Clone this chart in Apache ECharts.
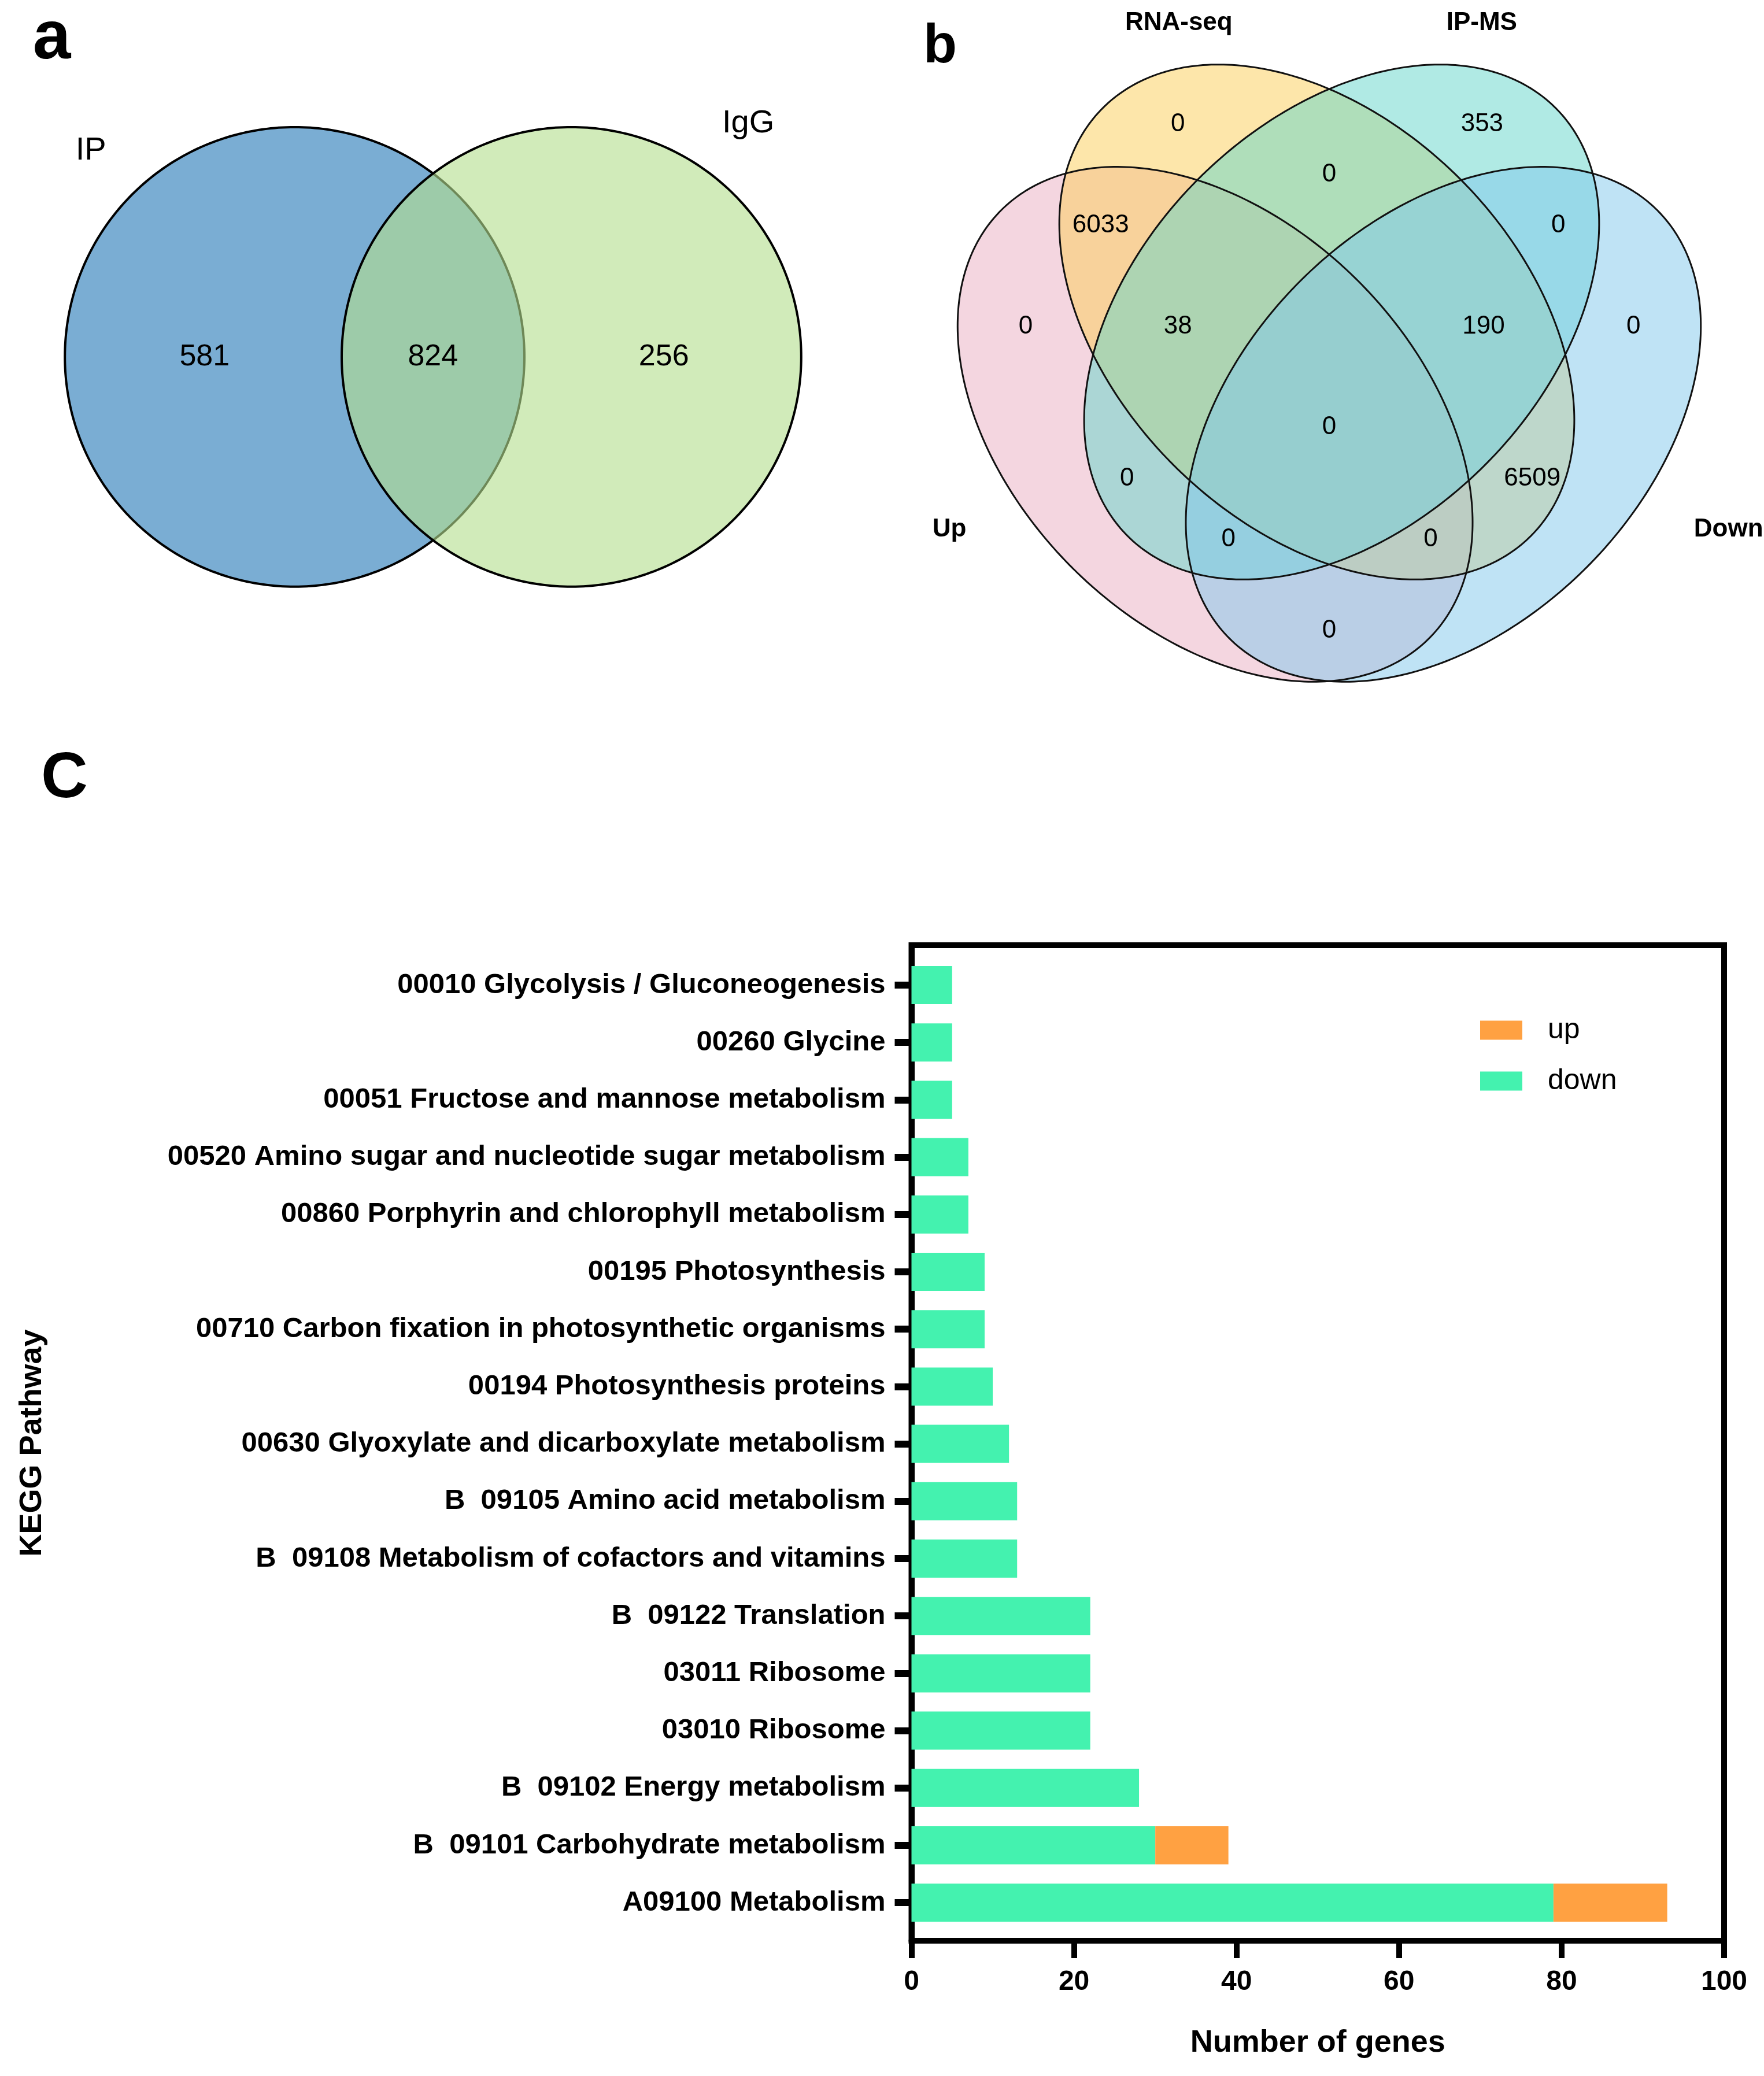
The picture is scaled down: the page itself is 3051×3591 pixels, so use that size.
<!DOCTYPE html>
<html><head><meta charset="utf-8">
<script src="https://cdn.jsdelivr.net/npm/echarts@6/dist/echarts.min.js"></script>
<style>html,body{margin:0;padding:0;background:#fff}#c{width:3051px;height:3591px}</style>
</head><body><div id="c"></div>
<script>
// ================= DATA =================
// Panel a: two-set Venn
const vennASets = ['IP', 'IgG'];
const vennACounts = [581, 824, 256];            // IP only, IP & IgG, IgG only

// Panel b: four-set Venn
const vennBSets = ['Up', 'RNA-seq', 'IP-MS', 'Down'];
const vennBRegions = ['RNA-seq', 'IP-MS', 'RNA-seq&IP-MS', 'RNA-seq&Up', 'IP-MS&Down',
  'Up', 'RNA-seq&IP-MS&Up', 'RNA-seq&IP-MS&Down', 'Down', 'Up&Down&RNA-seq&IP-MS',
  'IP-MS&Up', 'RNA-seq&Down', 'IP-MS&Up&Down', 'RNA-seq&Up&Down', 'Up&Down'];
const vennBCounts = [0, 353, 0, 6033, 0, 0, 38, 190, 0, 0, 0, 6509, 0, 0, 0];

// Panel c: KEGG bar chart (top to bottom)
const categories = [
  '00010 Glycolysis / Gluconeogenesis',
  '00260 Glycine',
  '00051 Fructose and mannose metabolism',
  '00520 Amino sugar and nucleotide sugar metabolism',
  '00860 Porphyrin and chlorophyll metabolism',
  '00195 Photosynthesis',
  '00710 Carbon fixation in photosynthetic organisms',
  '00194 Photosynthesis proteins',
  '00630 Glyoxylate and dicarboxylate metabolism',
  'B  09105 Amino acid metabolism',
  'B  09108 Metabolism of cofactors and vitamins',
  'B  09122 Translation',
  '03011 Ribosome',
  '03010 Ribosome',
  'B  09102 Energy metabolism',
  'B  09101 Carbohydrate metabolism',
  'A09100 Metabolism'
];
const downValues = [5, 5, 5, 7, 7, 9, 9, 10, 12, 13, 13, 22, 22, 22, 28, 30, 79];
const upValues   = [0, 0, 0, 0, 0, 0, 0, 0, 0, 0, 0, 0, 0, 0, 0, 9, 14];
const xTicks = [0, 20, 40, 60, 80, 100];
const seriesNames = ['up', 'down'];

// ================= LAYOUT (geometry in abstract units) =================
const FONT = '"Liberation Sans", Arial, Helvetica, sans-serif';
const layoutA = {
  centers: [[0, 0], [1.2048, 0]], r: 1,
  fills: ['rgb(122,173,211)', 'rgba(180,222,142,0.61)'],
  setLabelPos: [[-0.887, 0.897], [1.974, 1.015]],
  countPos: [[-0.392, 0], [0.602, 0], [1.607, 0]]
};
const layoutB = {
  a: 1, b: 0.669,
  // same order as vennBSets
  centers: [[-0.377, -0.338], [-0.041, 0], [0.041, 0], [0.377, -0.338]],
  rot: [-45, -45, 45, 45],
  fills: ['rgba(233,173,193,0.5)', 'rgba(251,205,85,0.5)', 'rgba(97,213,201,0.5)', 'rgba(127,199,235,0.5)'],
  setLabelPos: [[-1.255, -0.686], [-0.497, 0.988], [0.504, 0.988], [1.205, -0.686]],
  setLabelAlign: ['center', 'center', 'center', 'left'],
  countPos: [[-0.50, 0.653], [0.505, 0.653], [0, 0.488], [-0.755, 0.319], [0.757, 0.319],
    [-1.003, -0.015], [-0.50, -0.015], [0.51, -0.015], [1.005, -0.015], [0, -0.347],
    [-0.668, -0.518], [0.671, -0.518], [-0.333, -0.718], [0.335, -0.718], [0, -1.019]]
};

function ellipsePts(api, c, a, b, rotDeg) {
  const r = rotDeg * Math.PI / 180, pts = [];
  const n = 360;
  for (let k = 0; k < n; k++) {
    const t = k / n * 2 * Math.PI;
    const ex = a * Math.cos(t), ey = b * Math.sin(t);
    pts.push(api.coord([c[0] + ex * Math.cos(r) - ey * Math.sin(r),
                        c[1] + ex * Math.sin(r) + ey * Math.cos(r)]));
  }
  return pts;
}
function textEl(api, x, y, txt, size, weight, align) {
  const p = api.coord([x, y]);
  return { type: 'text', x: p[0], y: p[1],
    style: { text: String(txt), fill: '#000', fontSize: size, fontWeight: weight || 'normal',
      fontFamily: FONT, align: align || 'center', verticalAlign: 'middle' } };
}

const chart = echarts.init(document.getElementById('c'), null, { renderer: 'canvas' });
const option = {
  animation: false,
  backgroundColor: '#fff',
  textStyle: { fontFamily: FONT },
  grid: [
    { left: 12.85, top: 21.2, width: 1470.38, height: 1152.46, show: false },
    { left: 1618.45, top: 7.325, width: 1361.1, height: 1230.225, show: false },
    { left: 1576.5, top: 1635, width: 1405.5, height: 1722, show: true, borderColor: '#000', borderWidth: 10, backgroundColor: 'transparent' },
    { left: 1576.5, top: 1654.4, width: 1405.5, height: 1686.4, show: false }
  ],
  xAxis: [
    { gridIndex: 0, type: 'value', min: -1.25, max: 2.45, show: false },
    { gridIndex: 1, type: 'value', min: -1.3, max: 1.3, show: false },
    { gridIndex: 2, type: 'value', min: xTicks[0], max: xTicks[xTicks.length - 1], interval: xTicks[1] - xTicks[0],
      axisLine: { show: true, lineStyle: { color: '#000', width: 10 } },
      axisTick: { show: true, length: 30, lineStyle: { color: '#000', width: 10 } },
      axisLabel: { fontSize: 48, fontWeight: 'bold', color: '#000', margin: 48, fontFamily: FONT },
      splitLine: { show: false },
      name: 'Number of genes', nameLocation: 'middle', nameGap: 150,
      nameTextStyle: { fontSize: 54, fontWeight: 'bold', color: '#000', fontFamily: FONT } },
    { gridIndex: 3, type: 'value', min: xTicks[0], max: xTicks[xTicks.length - 1], show: false }
  ],
  yAxis: [
    { gridIndex: 0, type: 'value', min: -1.4, max: 1.5, show: false },
    { gridIndex: 1, type: 'value', min: -1.3, max: 1.05, show: false },
    { gridIndex: 2, type: 'value', min: 0, max: 1,
      axisLine: { show: true, lineStyle: { color: '#000', width: 10 } },
      axisTick: { show: false }, axisLabel: { show: false }, splitLine: { show: false },
      name: 'KEGG Pathway', nameLocation: 'middle', nameRotate: 90, nameGap: 1493,
      nameTextStyle: { fontSize: 54, fontWeight: 'bold', color: '#000', fontFamily: FONT } },
    { gridIndex: 3, type: 'category', inverse: true, data: categories,
      axisLine: { show: false },
      axisTick: { show: true, alignWithLabel: true, length: 29, lineStyle: { color: '#000', width: 12 } },
      axisLabel: { fontSize: 49, fontWeight: 'bold', color: '#000', margin: 45, interval: 0, fontFamily: FONT } }
  ],
  legend: {
    data: seriesNames, orient: 'vertical', left: 2560, top: 1757, padding: 0,
    itemWidth: 73, itemHeight: 33, itemGap: 38, icon: 'rect',
    textStyle: { fontSize: 50, color: '#000', fontFamily: FONT, padding: [0, 0, 0, 39] }
  },
  graphic: [
    { type: 'text', x: 89.5, y: 68, style: { text: 'a', fontSize: 118, fontWeight: 'bold', fontFamily: FONT, fill: '#000', align: 'center', verticalAlign: 'middle' } },
    { type: 'text', x: 1626, y: 82, style: { text: 'b', fontSize: 95, fontWeight: 'bold', fontFamily: FONT, fill: '#000', align: 'center', verticalAlign: 'middle' } },
    { type: 'text', x: 111.5, y: 1348, style: { text: 'C', fontSize: 112, fontWeight: 'bold', fontFamily: FONT, fill: '#000', align: 'center', verticalAlign: 'middle' } }
  ],
  series: [
    // ---- panel a ----
    { type: 'custom', coordinateSystem: 'cartesian2d', xAxisIndex: 0, yAxisIndex: 0, silent: true,
      data: vennASets.map((s, i) => [i, 0]),
      renderItem: function (params, api) {
        const i = params.dataIndex, c = layoutA.centers[i];
        return { type: 'polygon', shape: { points: ellipsePts(api, c, layoutA.r, layoutA.r, 0) },
          style: { fill: layoutA.fills[i], stroke: '#000', lineWidth: 4 } };
      } },
    { type: 'custom', coordinateSystem: 'cartesian2d', xAxisIndex: 0, yAxisIndex: 0, silent: true,
      data: vennACounts.map((v, i) => [layoutA.countPos[i][0], layoutA.countPos[i][1], v]),
      renderItem: function (params, api) {
        return textEl(api, api.value(0), api.value(1), api.value(2), 52, 'normal');
      } },
    { type: 'custom', coordinateSystem: 'cartesian2d', xAxisIndex: 0, yAxisIndex: 0, silent: true,
      data: vennASets.map((s, i) => [layoutA.setLabelPos[i][0], layoutA.setLabelPos[i][1]]),
      renderItem: function (params, api) {
        return textEl(api, api.value(0), api.value(1), vennASets[params.dataIndex], 56, 'normal');
      } },
    // ---- panel b ----
    { type: 'custom', coordinateSystem: 'cartesian2d', xAxisIndex: 1, yAxisIndex: 1, silent: true,
      data: vennBSets.map((s, i) => [i, 0]),
      renderItem: function (params, api) {
        const i = params.dataIndex;
        return { type: 'polygon', shape: { points: ellipsePts(api, layoutB.centers[i], layoutB.a, layoutB.b, layoutB.rot[i]) },
          style: { fill: layoutB.fills[i], stroke: null } };
      } },
    { type: 'custom', coordinateSystem: 'cartesian2d', xAxisIndex: 1, yAxisIndex: 1, silent: true,
      data: vennBSets.map((s, i) => [i, 0]),
      renderItem: function (params, api) {
        const i = params.dataIndex;
        return { type: 'polygon', shape: { points: ellipsePts(api, layoutB.centers[i], layoutB.a, layoutB.b, layoutB.rot[i]) },
          style: { fill: 'none', stroke: '#111', lineWidth: 3 } };
      } },
    { type: 'custom', coordinateSystem: 'cartesian2d', xAxisIndex: 1, yAxisIndex: 1, silent: true,
      data: vennBCounts.map((v, i) => [layoutB.countPos[i][0], layoutB.countPos[i][1], v]),
      renderItem: function (params, api) {
        return textEl(api, api.value(0), api.value(1), api.value(2), 44, 'normal');
      } },
    { type: 'custom', coordinateSystem: 'cartesian2d', xAxisIndex: 1, yAxisIndex: 1, silent: true,
      data: vennBSets.map((s, i) => [layoutB.setLabelPos[i][0], layoutB.setLabelPos[i][1]]),
      renderItem: function (params, api) {
        const i = params.dataIndex;
        return textEl(api, api.value(0), api.value(1), vennBSets[i], 44, 'bold', layoutB.setLabelAlign[i]);
      } },
    // ---- panel c ----
    { type: 'bar', name: 'down', xAxisIndex: 3, yAxisIndex: 3, stack: 'genes', data: downValues,
      barWidth: 66, itemStyle: { color: '#44F2AF' } },
    { type: 'bar', name: 'up', xAxisIndex: 3, yAxisIndex: 3, stack: 'genes', data: upValues,
      barWidth: 66, itemStyle: { color: '#FFA142' } }
  ]
};
chart.setOption(option);
</script>
</body></html>
